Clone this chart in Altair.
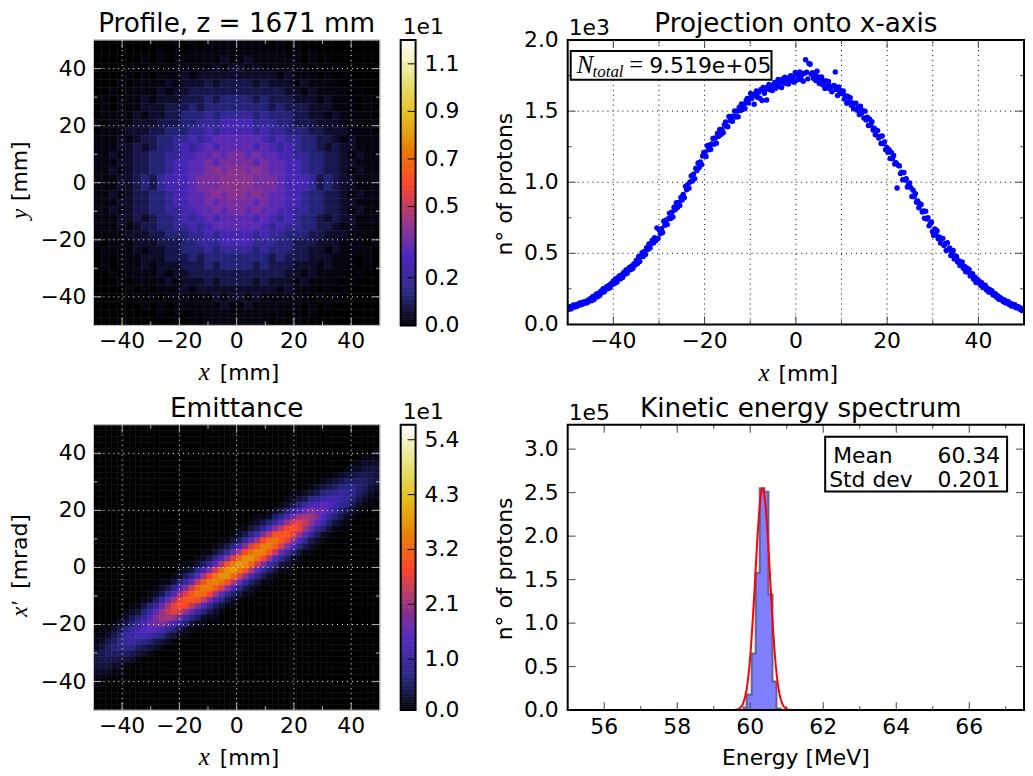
import altair as alt
import numpy as np
import pandas as pd

# ---- colour map stops (fractions of the colour bar) ----
CMAP_FRAC = [0, .125, .25, .375, .5, .625, .75, .875, 1]
CMAP_HEX = ["#000000", "#262680", "#4d26bf", "#993380", "#ff4026", "#e68000", "#e6bf1a", "#e6e680", "#ffffff"]

# ---- profile density, read by eye: top half of the picture, left half of each row;
# each digit indexes PROFILE_VALUE (x 1e1) ----
PROFILE_VALUE = [0, .02, .05, .09, .14, .20, .27, .33, .38, .42]
PROFILE_HALF = [
    "000000000010101111", "000000001010111111", "000000101011111121", "000001010111111212",
    "000010101112122222", "000101111212223233", "001011112122333333", "010111212223334344",
    "010111222333434444", "011112122334445455", "101112223334455566", "011122233444556566",
    "111212334455656777", "111223234456567677", "112123344556677878", "111223344566778788",
    "112123344566778989", "111223435666788899",
]
# ---- emittance density, read by eye: (first column, levels in base 36),
# rows from the top down to the centre ----
EMIT_TOP = [
    (47, "1"), (45, "111"), (43, "11222"), (42, "122333"), (40, "12334443"), (38, "1234555543"),
    (36, "123457776532"), (34, "12346789975421"), (32, "113478abba964211"),
    (31, "12469cdedb974211"), (29, "12369cfhgfc96421"), (27, "11257bgjkkhd96421"),
    (26, "1246aejnomjea6321"), (24, "11358dimqrpkf96311"), (23, "1247bhmrsspke9521"),
    (21, "11359ekquvsojd8421"), (20, "1247cioswwtnhc7421"), (18, "11359flrvxwsmfa6311"),
    (17, "1247ciouyyvqkd8521"), (15, "11359elswzyunhb7321"),
]
EMIT_BLANK_ROWS = 4

# ---- projection onto x: one read-off value per bin, x from -50 to 50 mm ----
PROJ_Y = [
    116,106,125,109,124,136,122,136,125,144,136,153,138,150,158,148,162,152,171,165,
    182,167,197,175,199,214,195,219,203,234,224,250,230,251,265,250,274,258,287,280,
    305,287,322,297,324,341,320,347,329,365,353,383,360,385,401,384,411,393,426,418,
    450,428,476,443,480,504,478,513,492,539,527,565,538,571,592,573,610,588,679,604,
    665,637,673,647,725,697,733,702,743,782,745,789,755,824,807,855,822,857,837,892,
    875,913,891,971,947,985,958,1001,1044,1009,1057,1025,1098,1083,1135,1104,1143,1125,1184,1209,
    1208,1181,1257,1228,1262,1230,1269,1307,1268,1311,1275,1343,1324,1371,1336,1370,1348,1402,1423,1394,
    1390,1463,1432,1463,1429,1465,1501,1459,1500,1461,1527,1505,1550,1512,1544,1519,1571,1589,1558,1589,
    1625,1589,1617,1548,1611,1642,1597,1633,1591,1652,1575,1667,1626,1653,1578,1672,1687,1651,1679,1645,
    1675,1701,1661,1692,1722,1675,1710,1666,1726,1699,1738,1695,1721,1691,1737,1750,1713,1739,1704,1772,
    1763,1720,1748,1775,1725,1757,1710,1767,1862,1773,1727,1835,1830,1760,1770,1730,1753,1715,1780,1740,
    1695,1718,1740,1685,1712,1660,1712,1677,1708,1657,1675,1637,1675,1680,1775,1653,1610,1670,1625,1643,
    1623,1642,1585,1609,1555,1604,1567,1595,1542,1557,1517,1552,1555,1507,1523,1477,1535,1487,1503,1452,
    1500,1438,1458,1399,1444,1402,1426,1368,1379,1334,1365,1363,1311,1322,1272,1325,1273,1284,1229,1245,
    1210,1228,1167,1210,1166,1188,1128,1137,960,1119,1115,1061,1070,1018,1069,1015,1024,967,981,994,
    962,900,943,898,920,859,868,820,849,844,790,798,746,796,742,750,693,706,719,654,
    625,672,632,658,602,615,572,605,605,555,568,520,575,525,538,485,503,520,460,482,
    478,439,448,414,436,439,394,408,370,397,369,386,340,352,357,318,333,295,319,294,
    304,276,293,260,270,276,244,254,228,245,225,237,207,214,216,191,201,176,190,173,
    178,160,172,150,158,161,140,148,130,142,128,138,117,123,124,108,115,97,108,96,
]

# ---- kinetic energy spectrum ----
HIST_EDGES = [59.79, 59.90, 60.04, 60.15, 60.26, 60.39, 60.50, 60.61, 60.72, 60.83]
HIST_HEIGHT = [0.03, 0.18, 0.65, 1.58, 2.55, 2.51, 1.33, 0.33, 0.02, 0.0]
FIT_X = [55, 58, 59.5, 59.6, 59.7, 59.8, 59.9, 60.0, 60.1, 60.2, 60.3, 60.34, 60.4, 60.5, 60.6, 60.7, 60.8, 60.9, 61.0, 61.1, 61.3, 63, 65]
FIT_Y = [0, 0, 0, 0.003, 0.016, 0.069, 0.232, 0.61, 1.25, 2.0, 2.5, 2.55, 2.44, 1.86, 1.10, 0.51, 0.186, 0.053, 0.012, 0.002, 0, 0, 0]

# ---- ticks ----
HEAT_MAJOR = [-40, -20, 0, 20, 40]
HEAT_MINOR = [-30, -10, 10, 30]
PROJ_X_MAJOR = [-40, -20, 0, 20, 40]
PROJ_X_MINOR = [-30, -10, 10, 30]
PROJ_Y_MAJOR = [0, 500, 1000, 1500, 2000]
PROJ_Y_LABELS = ["0.0", "0.5", "1.0", "1.5", "2.0"]
PROJ_Y_MINOR = [250, 750, 1250, 1750]
SPEC_X_MAJOR = [56, 58, 60, 62, 64, 66]
SPEC_X_MINOR = [57, 59, 61, 63, 65, 67]
SPEC_Y_MAJOR = [0, .5, 1, 1.5, 2, 2.5, 3]
SPEC_Y_LABELS = ["0.0", "0.5", "1.0", "1.5", "2.0", "2.5", "3.0"]
CB1_TICKS = [0, 0.2, 0.5, 0.7, 0.9, 1.1]
CB1_LABELS = ["0.0", "0.2", "0.5", "0.7", "0.9", "1.1"]
CB2_TICKS = [0, 1.02, 2.12, 3.22, 4.32, 5.42]
CB2_LABELS = ["0.0", "1.0", "2.1", "3.2", "4.3", "5.4"]
CB1_MAX = 1.2
CB2_MAX = 5.72

FONT = "DejaVu Sans"
MATH = "Liberation Serif"
FS = 22
TS = 26.4
MS = 25
MS_ROT = 23
HEAT_W, HEAT_H = 288, 287
CB_W = 15
R_W = 459
TICK_GREY = "#b0b0b0"
TICK_DARK = "#444444"


def blank():
    return alt.Chart(alt.Data(values=[{}]))


def txt(text, x, y, size=FS, font=FONT, align="left", angle=0, italic=False, baseline="alphabetic"):
    return blank().mark_text(text=text, font=font, fontSize=size, align=align, angle=angle,
                             baseline=baseline, color="black",
                             fontStyle="italic" if italic else "normal").encode(
        x=alt.value(x), y=alt.value(y))


def box(x0, x1, y0, y1, fill="white", stroke="black", sw=2):
    return blank().mark_rect(fill=fill, stroke=stroke, strokeWidth=sw).encode(
        x=alt.value(x0), x2=alt.value(x1), y=alt.value(y0), y2=alt.value(y1))


def frame(w, h, stroke, sw):
    return blank().mark_rect(fillOpacity=0, stroke=stroke, strokeWidth=sw).encode(
        x=alt.value(0), x2=alt.value(w), y=alt.value(0), y2=alt.value(h))


def qscale(dom):
    return alt.Scale(domain=dom, nice=False, zero=False)


def xrules(vals, dom, y0, y1, color, dash=None, sw=1):
    kw = {"strokeDash": dash} if dash else {}
    return alt.Chart(pd.DataFrame({"v": vals})).mark_rule(color=color, strokeWidth=sw, **kw).encode(
        x=alt.X("v:Q", scale=qscale(dom), axis=None),
        y=alt.value(y0), y2=alt.value(y1))


def yrules(vals, dom, x0, x1, color, dash=None, sw=1):
    kw = {"strokeDash": dash} if dash else {}
    return alt.Chart(pd.DataFrame({"v": vals})).mark_rule(color=color, strokeWidth=sw, **kw).encode(
        y=alt.Y("v:Q", scale=qscale(dom), axis=None),
        x=alt.value(x0), x2=alt.value(x1))


def xlabels(vals, dom, y, labels=None):
    labs = labels or [str(v).replace("-", "\u2212") for v in vals]
    return alt.Chart(pd.DataFrame({"v": vals, "t": labs})).mark_text(
        font=FONT, fontSize=FS, align="center", baseline="alphabetic", color="black").encode(
        x=alt.X("v:Q", scale=qscale(dom), axis=None), y=alt.value(y), text="t:N")


def ylabels(vals, dom, x, labels=None, align="right"):
    labs = labels or [str(v).replace("-", "\u2212") for v in vals]
    return alt.Chart(pd.DataFrame({"v": vals, "t": labs})).mark_text(
        font=FONT, fontSize=FS, align=align, baseline="middle", color="black").encode(
        y=alt.Y("v:Q", scale=qscale(dom), axis=None), x=alt.value(x), text="t:N")


def cmap_scale(vmax):
    return alt.Scale(domain=[f * vmax for f in CMAP_FRAC], range=CMAP_HEX, interpolate="rgb", clamp=True)


def grid_frame(levels, to_value):
    n = len(levels)
    edges = np.linspace(-50, 50, n + 1)
    rec = []
    for r, row in enumerate(levels):
        for c, ch in enumerate(row):
            rec.append({"x0": edges[c], "x1": edges[c + 1], "y0": edges[n - r - 1], "y1": edges[n - r],
                        "v": to_value(int(ch, 36))})
    return pd.DataFrame(rec)


def heat_panel(levels, to_value, vmax, extras):
    dom = [-50, 50]
    df = grid_frame(levels, to_value)
    base = alt.Chart(df).mark_rect(strokeWidth=0.5).encode(
        x=alt.X("x0:Q", scale=qscale(dom), axis=None),
        x2="x1:Q",
        y=alt.Y("y0:Q", scale=qscale(dom), axis=None),
        y2="y1:Q",
        color=alt.Color("v:Q", scale=cmap_scale(vmax), legend=None),
        stroke=alt.Stroke("v:Q", scale=cmap_scale(vmax), legend=None),
    )
    layers = [
        base,
        xrules(HEAT_MAJOR, dom, 0, HEAT_H, "white", [1, 4]),
        yrules(HEAT_MAJOR, dom, 0, HEAT_W, "white", [1, 4]),
        xrules(HEAT_MAJOR, dom, 0, 8, TICK_GREY), xrules(HEAT_MAJOR, dom, HEAT_H - 8, HEAT_H, TICK_GREY),
        yrules(HEAT_MAJOR, dom, 0, 8, TICK_GREY), yrules(HEAT_MAJOR, dom, HEAT_W - 8, HEAT_W, TICK_GREY),
        xrules(HEAT_MINOR, dom, 0, 4, TICK_GREY), xrules(HEAT_MINOR, dom, HEAT_H - 4, HEAT_H, TICK_GREY),
        yrules(HEAT_MINOR, dom, 0, 4, TICK_GREY), yrules(HEAT_MINOR, dom, HEAT_W - 4, HEAT_W, TICK_GREY),
        frame(HEAT_W, HEAT_H, "#c8c8c8", 1),
        xlabels(HEAT_MAJOR, dom, HEAT_H + 23),
        ylabels(HEAT_MAJOR, dom, -7),
    ] + extras
    return alt.layer(*layers).properties(width=HEAT_W, height=HEAT_H)


def colorbar(vmax, ticks, labels):
    samples = np.linspace(0, vmax, 145)
    df = pd.DataFrame({"lo": samples[:-1], "hi": samples[1:]})
    dom = [0, vmax]
    bar = alt.Chart(df).mark_rect(strokeWidth=0.5).encode(
        x=alt.value(0), x2=alt.value(CB_W),
        y=alt.Y("lo:Q", scale=qscale(dom), axis=None),
        y2="hi:Q",
        color=alt.Color("hi:Q", scale=cmap_scale(vmax), legend=None),
        stroke=alt.Stroke("hi:Q", scale=cmap_scale(vmax), legend=None),
    )
    return alt.layer(
        bar,
        yrules(ticks[1:], dom, CB_W - 8, CB_W, "black"),
        frame(CB_W, HEAT_H, "black", 2),
        ylabels(ticks, dom, CB_W + 9, labels, align="left"),
        txt("1e1", 2, -6),
    ).properties(width=CB_W, height=HEAT_H)


def spacer(w):
    return blank().mark_rule(opacity=0).encode(x=alt.value(0)).properties(width=w, height=10)


# ---- build grids ----
profile_rows = [h + h[::-1] for h in PROFILE_HALF]
profile_rows = profile_rows + [r[::-1] for r in reversed(profile_rows)]

emit_rows = ["0" * 48 for _ in range(EMIT_BLANK_ROWS)]
for start, vals in EMIT_TOP:
    emit_rows.append(("0" * start + vals + "0" * 48)[:48])
emit_rows = emit_rows[:24]
emit_rows = emit_rows + [r[::-1] for r in reversed(emit_rows)]

# ---- panels ----
p1 = heat_panel(profile_rows, lambda i: PROFILE_VALUE[i], CB1_MAX, [
    txt("Profile, z = 1671 mm", HEAT_W / 2, -8, TS, align="center"),
    txt("x", 106, 342, MS, MATH, italic=True), txt("[mm]", 127, 342),
    txt("y", -67, 180, MS_ROT, MATH, angle=270, italic=True), txt("[mm]", -67, 162, angle=270),
])
p3 = heat_panel(emit_rows, lambda i: i * 0.11, CB2_MAX, [
    txt("Emittance", HEAT_W / 2, -8, TS, align="center"),
    txt("x", 106, 342, MS, MATH, italic=True), txt("[mm]", 127, 342),
    txt("x\u2032", -67, 193, MS_ROT, MATH, angle=270, italic=True), txt("[mrad]", -67, 165, angle=270),
])

# projection
RH_TOP = 286
xdom, ydom = [-50, 50], [0, 2000]
proj_df = pd.DataFrame({"x": np.linspace(-50, 50, len(PROJ_Y)), "y": PROJ_Y})
proj_pts = alt.Chart(proj_df).mark_circle(color="#0000ff", size=30, opacity=1, clip=True).encode(
    x=alt.X("x:Q", scale=qscale(xdom), axis=None),
    y=alt.Y("y:Q", scale=qscale(ydom), axis=None),
)
p2 = alt.layer(
    xrules(PROJ_X_MAJOR + PROJ_X_MINOR, xdom, 0, RH_TOP, "black", [1, 4]),
    yrules(PROJ_Y_MAJOR[1:-1], ydom, 0, R_W, "black", [1, 4]),
    proj_pts,
    xrules(PROJ_X_MAJOR, xdom, 0, 8, TICK_DARK), xrules(PROJ_X_MAJOR, xdom, RH_TOP - 8, RH_TOP, TICK_DARK),
    xrules(PROJ_X_MINOR, xdom, 0, 4, TICK_DARK), xrules(PROJ_X_MINOR, xdom, RH_TOP - 4, RH_TOP, TICK_DARK),
    yrules(PROJ_Y_MAJOR, ydom, 0, 8, TICK_DARK), yrules(PROJ_Y_MAJOR, ydom, R_W - 8, R_W, TICK_DARK),
    yrules(PROJ_Y_MINOR, ydom, 0, 4, TICK_DARK), yrules(PROJ_Y_MINOR, ydom, R_W - 4, R_W, TICK_DARK),
    frame(R_W, RH_TOP, "black", 2),
    xlabels(PROJ_X_MAJOR, xdom, RH_TOP + 24),
    ylabels(PROJ_Y_MAJOR, ydom, -9, PROJ_Y_LABELS),
    box(3, 205, 11, 40),
    txt("N", 9, 33, MS, MATH, italic=True),
    txt("total", 25, 37, 17, MATH, italic=True),
    txt("=", 62, 33, MS, MATH),
    txt("9.519e+05", 82, 33),
    txt("1e3", 1, -5),
    txt("Projection onto x-axis", R_W / 2, -8, TS, align="center"),
    txt("x", 192, 343, MS, MATH, italic=True), txt("[mm]", 212, 343),
    txt("n\u00b0 of protons", -56, 145, align="center", angle=270),
).properties(width=R_W, height=RH_TOP)

# spectrum
RH_BOT = 287
sxdom, sydom = [55, 67.5], [0, 3.28]
hist_df = pd.DataFrame({"x": HIST_EDGES, "y": HIST_HEIGHT})
fit_df = pd.DataFrame({"x": FIT_X, "y": FIT_Y})
hist_area = alt.Chart(hist_df).mark_area(interpolate="step-after", color="#8080ff", opacity=1).encode(
    x=alt.X("x:Q", scale=qscale(sxdom), axis=None),
    y=alt.Y("y:Q", scale=qscale(sydom), axis=None),
)
hist_line = alt.Chart(hist_df).mark_line(interpolate="step-after", color="#555577", strokeWidth=2, opacity=0.85).encode(
    x=alt.X("x:Q", scale=qscale(sxdom), axis=None), y=alt.Y("y:Q", scale=qscale(sydom), axis=None))
fit_line = alt.Chart(fit_df).mark_line(interpolate="monotone", color="#ff0000", strokeWidth=2).encode(
    x=alt.X("x:Q", scale=qscale(sxdom), axis=None), y=alt.Y("y:Q", scale=qscale(sydom), axis=None))
p4 = alt.layer(
    hist_area, hist_line, fit_line,
    xrules(SPEC_X_MAJOR, sxdom, 0, 8, TICK_DARK), xrules(SPEC_X_MAJOR, sxdom, RH_BOT - 8, RH_BOT, TICK_DARK),
    xrules(SPEC_X_MINOR, sxdom, 0, 4, TICK_DARK), xrules(SPEC_X_MINOR, sxdom, RH_BOT - 4, RH_BOT, TICK_DARK),
    yrules(SPEC_Y_MAJOR, sydom, 0, 8, TICK_DARK), yrules(SPEC_Y_MAJOR, sydom, R_W - 8, R_W, TICK_DARK),
    frame(R_W, RH_BOT, "black", 2),
    xlabels(SPEC_X_MAJOR, sxdom, RH_BOT + 24),
    ylabels(SPEC_Y_MAJOR, sydom, -9, SPEC_Y_LABELS),
    box(259, 442, 12, 67),
    txt("Mean", 267, 38), txt("60.34", 435, 38, align="right"),
    txt("Std dev", 263, 63), txt("0.201", 435, 63, align="right"),
    txt("1e5", 1, -5),
    txt("Kinetic energy spectrum", R_W / 2 + 5, -8, TS, align="center"),
    txt("Energy [MeV]", R_W / 2, 342, align="center"),
    txt("n\u00b0 of protons", -56, 145, align="center", angle=270),
).properties(width=R_W, height=RH_BOT)

cb1 = colorbar(CB1_MAX, CB1_TICKS, CB1_LABELS)
cb3 = colorbar(CB2_MAX, CB2_TICKS, CB2_LABELS)

chart = alt.concat(
    p1, cb1, spacer(111), p2,
    p3, cb3, spacer(111), p4,
    columns=4,
    spacing=alt.RowColnumber(row=100, column=21),
    bounds="flush",
    align="each",
).resolve_scale(color="independent", stroke="independent").properties(
    padding={"left": 1, "top": 1, "right": 0, "bottom": 0}
).configure_view(stroke=None)

chart.save("out.html", embed_options={"renderer": "svg", "actions": False})
